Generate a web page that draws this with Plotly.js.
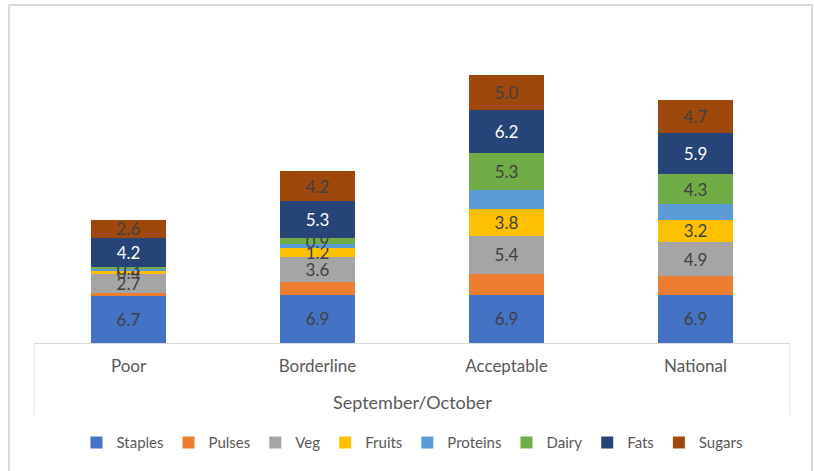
<!DOCTYPE html>
<html>
<head>
<meta charset="utf-8">
<script src="https://cdn.plot.ly/plotly-3.0.1.min.js"></script>
<style>
html,body{margin:0;padding:0;background:#fff;}
#chart{width:814px;height:471px;}
</style>
</head>
<body>
<div id="chart"></div>
<script>
const categories = ["Poor", "Borderline", "Acceptable", "National"];
const groupLabel = "September/October";
const seriesNames = ["Staples", "Pulses", "Veg", "Fruits", "Proteins", "Dairy", "Fats", "Sugars"];
const staples  = [6.7, 6.9, 6.9, 6.9];
const pulses   = [0.5, 1.8, 3.0, 2.6];
const veg      = [2.7, 3.6, 5.4, 4.9];
const fruits   = [0.4, 1.2, 3.8, 3.2];
const proteins = [0.2, 0.6, 2.7, 2.2];
const dairy    = [0.3, 0.9, 5.3, 4.3];
const fats     = [4.2, 5.3, 6.2, 5.9];
const sugars   = [2.6, 4.2, 5.0, 4.7];
const labeled  = [true, false, true, true, false, true, true, true];

const seriesValues = [staples, pulses, veg, fruits, proteins, dairy, fats, sugars];
const colors = ["#4472C4", "#ED7D31", "#A5A5A5", "#FFC000", "#5B9BD5", "#70AD47", "#264478", "#9E480E"];
const labelColors = ["#404040", "#404040", "#404040", "#404040", "#404040", "#404040", "#FFFFFF", "#404040"];

const FONT = "Lato, 'Open Sans', sans-serif";

const traces = seriesNames.map((name, i) => ({
  type: "bar",
  name: name,
  x: categories,
  y: seriesValues[i],
  marker: {color: colors[i], line: {width: 0}},
  text: labeled[i] ? seriesValues[i].map(v => v.toFixed(1)) : seriesValues[i].map(() => ""),
  textposition: labeled[i] ? "inside" : "none",
  insidetextanchor: "middle",
  textangle: 0,
  constraintext: "none",
  cliponaxis: false,
  textfont: {family: FONT, size: 17, color: labelColors[i]},
  hoverinfo: "x+y+name"
}));

const layout = {
  width: 814,
  height: 471,
  margin: {l: 34, r: 24, t: 30, b: 128, autoexpand: false},
  barmode: "stack",
  bargap: 0.6,
  paper_bgcolor: "#ffffff",
  plot_bgcolor: "#ffffff",
  font: {family: FONT, color: "#595959", size: 15},
  showlegend: true,
  legend: {
    orientation: "h",
    x: 0.5, xanchor: "center",
    y: -0.319, yanchor: "middle",
    traceorder: "normal",
    font: {family: FONT, size: 15, color: "#595959"},
    itemwidth: 30,
    itemclick: false
  },
  xaxis: {
    type: "category",
    showline: true,
    linecolor: "#D9D9D9",
    linewidth: 1,
    showgrid: false,
    zeroline: false,
    ticks: "",
    ticklabelstandoff: 8,
    tickfont: {family: FONT, size: 17, color: "#595959"},
    fixedrange: true
  },
  yaxis: {
    range: [0, 44.7],
    visible: false,
    showgrid: false,
    zeroline: false,
    fixedrange: true
  },
  annotations: [{
    text: groupLabel,
    xref: "paper", yref: "paper",
    x: 0.5, y: 0,
    xanchor: "center", yanchor: "middle",
    yshift: -59,
    showarrow: false,
    font: {family: FONT, size: 18, color: "#595959"}
  }],
  shapes: [
    {type: "rect", xref: "paper", yref: "paper", x0: -0.033, x1: 1.029, y0: -0.432, y1: 1.08,
     line: {color: "#D9D9D9", width: 2}, fillcolor: "rgba(0,0,0,0)", layer: "below"},
    {type: "line", xref: "paper", yref: "paper", x0: 0, x1: 0, y0: 0, y1: -0.23,
     line: {color: "#D9D9D9", width: 1}},
    {type: "line", xref: "paper", yref: "paper", x0: 1, x1: 1, y0: 0, y1: -0.23,
     line: {color: "#D9D9D9", width: 1}}
  ]
};

Plotly.newPlot("chart", traces, layout, {displayModeBar: false, staticPlot: true});
</script>
</body>
</html>
